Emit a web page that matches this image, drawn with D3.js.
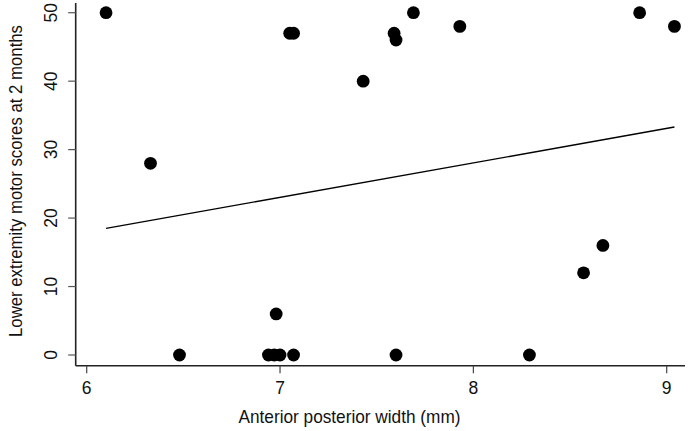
<!DOCTYPE html>
<html>
<head>
<meta charset="utf-8">
<script src="https://cdn.jsdelivr.net/npm/d3@7"></script>
<style>
  html, body { margin: 0; padding: 0; background: #fff; }
  svg { display: block; }
  text { font-family: "Liberation Sans", Arial, sans-serif; fill: #111; }
</style>
</head>
<body>
<svg id="chart" width="688" height="431"></svg>
<script>
'use strict';

// anterior posterior width (mm) and motor score for each patient
var widths = [6.10, 7.69, 8.86, 7.93, 9.04, 7.05, 7.07, 7.59, 7.60, 7.43, 6.33,
  8.67, 8.57, 6.98, 6.48, 6.94, 6.97, 7.00, 7.07, 7.60, 8.29];
var scores = [50, 50, 50, 48, 48, 47, 47, 47, 46, 40, 28,
  16, 12, 6, 0, 0, 0, 0, 0, 0, 0];

// fitted line, read at its two ends
var fitX = [6.10, 9.04];
var fitY = [18.5, 33.3];

var xTicks = [6, 7, 8, 9];
var yTicks = [0, 10, 20, 30, 40, 50];

var svg = d3.select('#chart');

var x = d3.scaleLinear().domain([6, 9]).range([86.7, 666.7]);
var y = d3.scaleLinear().domain([0, 50]).range([355, 12.7]);

var axisLeftX = 75.7;
var axisBottomY = 365.7;

// axis lines
svg.append('line')
  .attr('x1', axisLeftX).attr('x2', axisLeftX)
  .attr('y1', 3).attr('y2', axisBottomY)
  .attr('stroke', '#222').attr('stroke-width', 1.6);
svg.append('line')
  .attr('x1', axisLeftX).attr('x2', 685)
  .attr('y1', axisBottomY).attr('y2', axisBottomY)
  .attr('stroke', '#222').attr('stroke-width', 1.6);

// x ticks
var xAxis = svg.append('g');
xAxis.selectAll('line')
  .data(xTicks)
  .enter()
  .append('line')
  .attr('x1', function(d) { return x(d); })
  .attr('x2', function(d) { return x(d); })
  .attr('y1', axisBottomY)
  .attr('y2', axisBottomY + 7.5)
  .attr('stroke', '#444')
  .attr('stroke-width', 1.2);
xAxis.selectAll('text')
  .data(xTicks)
  .enter()
  .append('text')
  .attr('x', function(d) { return x(d); })
  .attr('y', 393.5)
  .attr('text-anchor', 'middle')
  .style('font-size', '17.5px')
  .text(function(d) { return d; });

// y ticks (labels rotated, as in the original)
var yAxis = svg.append('g');
yAxis.selectAll('line')
  .data(yTicks)
  .enter()
  .append('line')
  .attr('x1', axisLeftX - 7.5)
  .attr('x2', axisLeftX)
  .attr('y1', function(d) { return y(d); })
  .attr('y2', function(d) { return y(d); })
  .attr('stroke', '#555')
  .attr('stroke-width', 1.2);
yAxis.selectAll('text')
  .data(yTicks)
  .enter()
  .append('text')
  .attr('transform', function(d) {
    return 'translate(57,' + y(d) + ') rotate(-90)';
  })
  .attr('text-anchor', 'middle')
  .style('font-size', '17.5px')
  .text(function(d) { return d; });

// axis titles
svg.append('text')
  .attr('x', 238.5)
  .attr('y', 423)
  .attr('textLength', 222)
  .attr('lengthAdjust', 'spacingAndGlyphs')
  .style('font-size', '18.5px')
  .text('Anterior posterior width (mm)');

svg.append('text')
  .attr('transform', 'translate(22,337) rotate(-90)')
  .attr('textLength', 312)
  .attr('lengthAdjust', 'spacingAndGlyphs')
  .style('font-size', '18.5px')
  .text('Lower extremity motor scores at 2 months');

// fitted line
svg.append('line')
  .attr('x1', x(fitX[0])).attr('y1', y(fitY[0]))
  .attr('x2', x(fitX[1])).attr('y2', y(fitY[1]))
  .attr('stroke', '#000')
  .attr('stroke-width', 1.4);

// points
svg.append('g').selectAll('circle')
  .data(d3.zip(widths, scores))
  .enter()
  .append('circle')
  .attr('cx', function(d) { return x(d[0]); })
  .attr('cy', function(d) { return y(d[1]); })
  .attr('r', 6.4)
  .style('fill', '#000');
</script>
</body>
</html>
